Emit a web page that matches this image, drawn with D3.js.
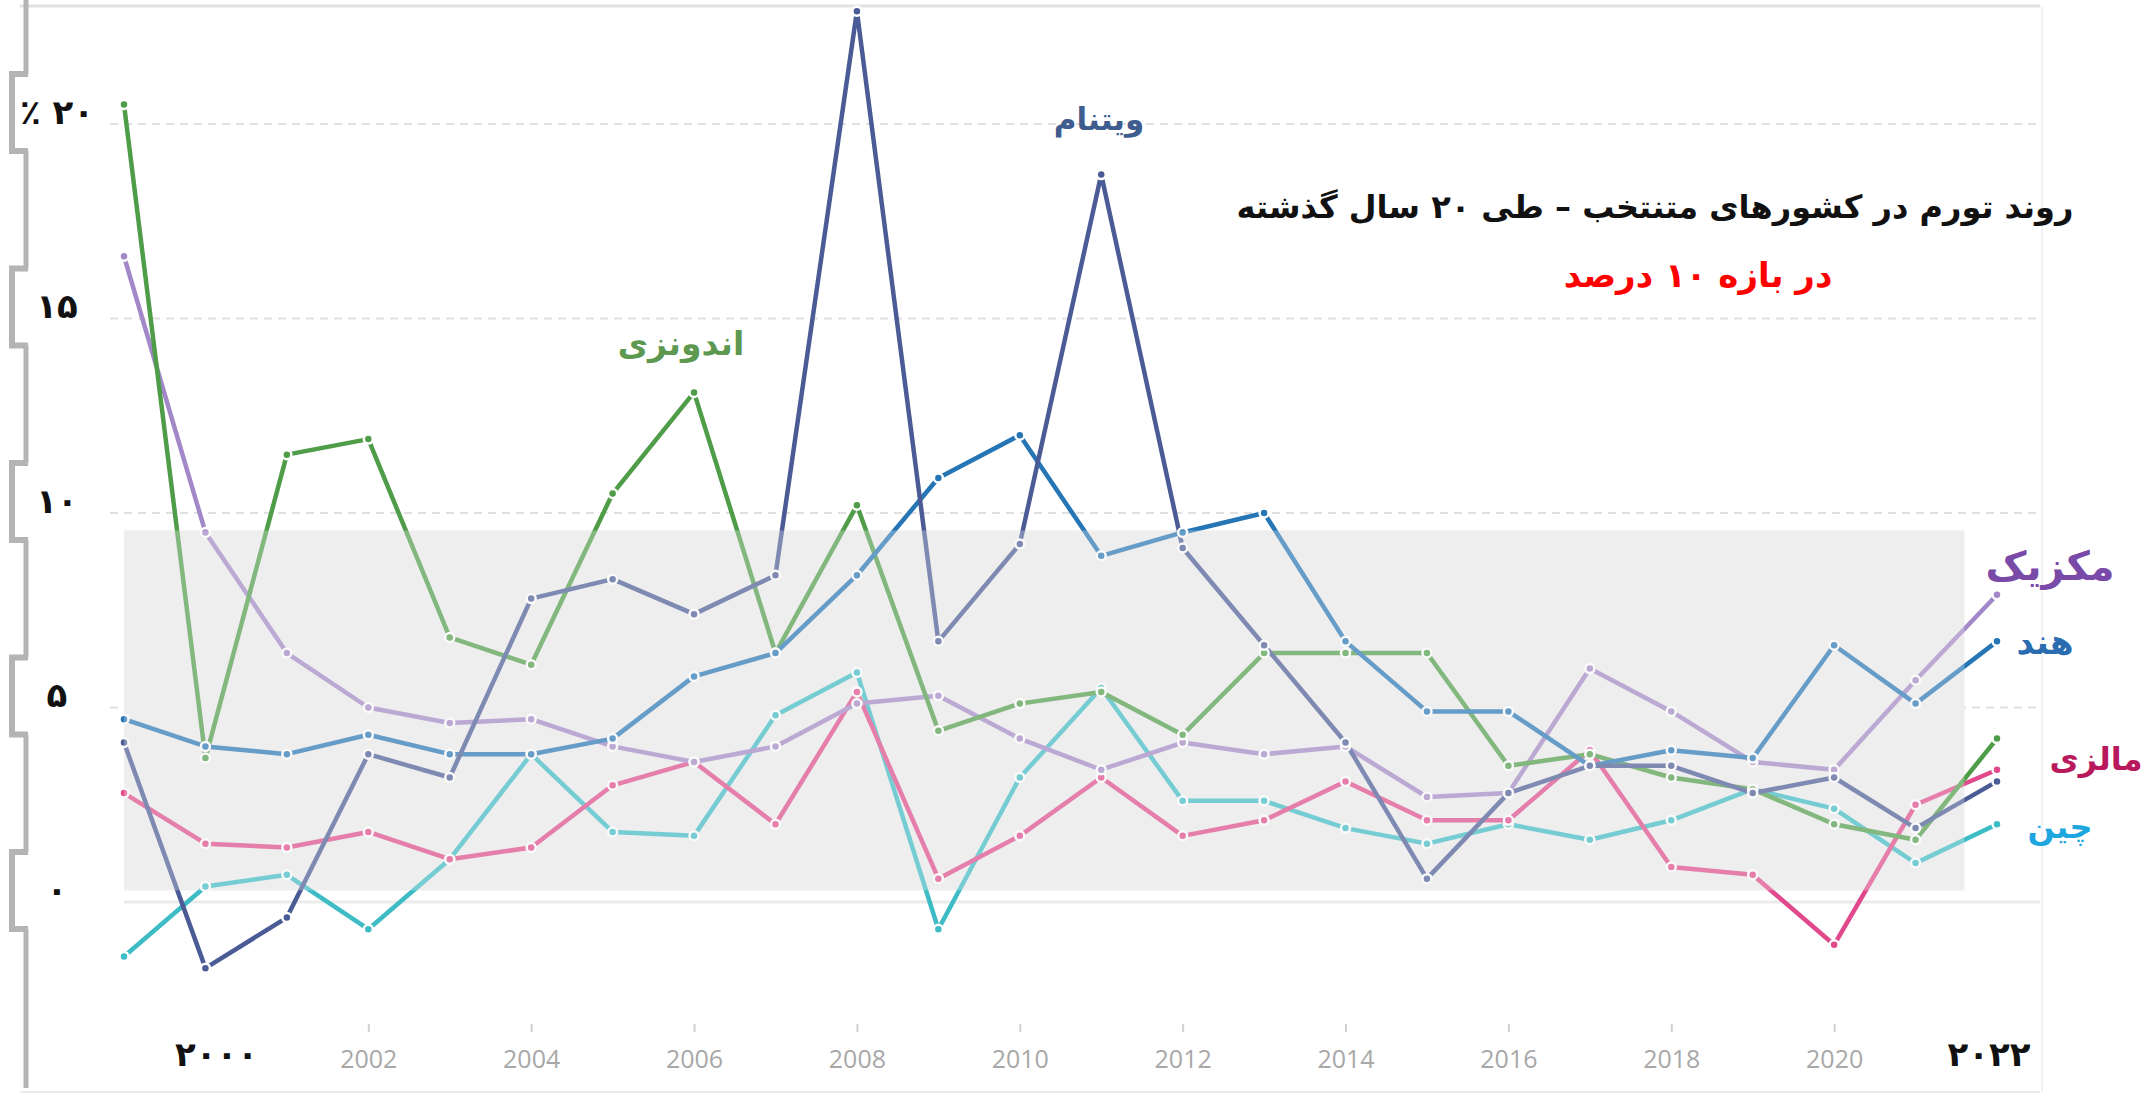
<!DOCTYPE html>
<html>
<head>
<meta charset="utf-8">
<script src="https://cdn.jsdelivr.net/npm/d3@7/dist/d3.min.js"></script>
<style>
    body { margin: 0; background: #fff; }
    svg { display: block; }
</style>
</head>
<body>
<div id="chart"></div>
<script>
// inflation, % per year
const years = [1999, 2000, 2001, 2002, 2003, 2004, 2005, 2006, 2007, 2008, 2009, 2010,
    2011, 2012, 2013, 2014, 2015, 2016, 2017, 2018, 2019, 2020, 2021, 2022];

const indonesia = [20.5, 3.7, 11.5, 11.9, 6.8, 6.1, 10.5, 13.1, 6.4, 10.2, 4.4, 5.1,
    5.4, 4.3, 6.4, 6.4, 6.4, 3.5, 3.8, 3.2, 2.9, 2.0, 1.6, 4.2];
const vietnam = [4.1, -1.7, -0.4, 3.8, 3.2, 7.8, 8.3, 7.4, 8.4, 22.9, 6.7, 9.2,
    18.7, 9.1, 6.6, 4.1, 0.6, 2.8, 3.5, 3.5, 2.8, 3.2, 1.9, 3.1];
const india = [4.7, 4.0, 3.8, 4.3, 3.8, 3.8, 4.2, 5.8, 6.4, 8.4, 10.9, 12.0,
    8.9, 9.5, 10.0, 6.7, 4.9, 4.9, 3.5, 3.9, 3.7, 6.6, 5.1, 6.7];
const mexico = [16.6, 9.5, 6.4, 5.0, 4.6, 4.7, 4.0, 3.6, 4.0, 5.1, 5.3, 4.2,
    3.4, 4.1, 3.8, 4.0, 2.7, 2.8, 6.0, 4.9, 3.6, 3.4, 5.7, 7.9];
const malaysia = [2.8, 1.5, 1.4, 1.8, 1.1, 1.4, 3.0, 3.6, 2.0, 5.4, 0.6, 1.7,
    3.2, 1.7, 2.1, 3.1, 2.1, 2.1, 3.9, 0.9, 0.7, -1.1, 2.5, 3.4];
const china = [-1.4, 0.4, 0.7, -0.7, 1.1, 3.8, 1.8, 1.7, 4.8, 5.9, -0.7, 3.2,
    5.5, 2.6, 2.6, 1.9, 1.5, 2.0, 1.6, 2.1, 2.9, 2.4, 1.0, 2.0];

const seriesNames = ["چین", "مالزی", "مکزیک", "اندونزی", "هند", "ویتنام"];
const seriesValues = [china, malaysia, mexico, indonesia, india, vietnam];

const yTickValues = [0, 5, 10, 15, 20];
const yTickLabels = ["۰", "۵", "۱۰", "۱۵", "٪ ۲۰"];
const xTickValues = [2002, 2004, 2006, 2008, 2010, 2012, 2014, 2016, 2018, 2020];
const xEndTicks = [2000, 2022];
const xEndLabels = ["۲۰۰۰", "۲۰۲۲"];

// the shaded "10 percent" zone
const bandValues = [0.3, 9.55];
const bandYears = [1999, 2021.6];

const titleText = "روند تورم در کشورهای متنتخب – طی ۲۰ سال گذشته";
const subtitleText = "در بازه ۱۰ درصد";

// styling per series (same order as seriesNames)
const lineColors = ["#3dbcc6", "#e0498b", "#a288c8", "#4f9c49", "#2676b6", "#4b5b96"];
const labelColors = ["#1ea7df", "#b8195c", "#7a4aa8", "#5c9850", "#2a6cb0", "#3e5d8e"];
const labelPos = [
    {x: 2060, y: 838}, {x: 2096, y: 770}, {x: 2050, y: 580},
    {x: 681, y: 355}, {x: 2045, y: 654}, {x: 1099, y: 130}
];
const labelSize = [32, 32, 40, 33, 34, 31];
const endLabelShift = [11, -8];

const W = 2156, H = 1094;
const persianFont = "'DejaVu Sans', sans-serif";

const svg = d3.select("#chart").append("svg")
    .attr("width", W)
    .attr("height", H);

const x = d3.scaleLinear().domain([1999, 2022]).range([124, 1997]);
const y = d3.scaleLinear().domain([0, 20]).range([902, 124]);

// frame of the pasted picture
svg.append("line")
    .attr("x1", 20).attr("x2", 2040).attr("y1", 6).attr("y2", 6)
    .attr("stroke", "#e2e2e2").attr("stroke-width", 3);
svg.append("line")
    .attr("x1", 20).attr("x2", 2040).attr("y1", 1092).attr("y2", 1092)
    .attr("stroke", "#ececec").attr("stroke-width", 2);
svg.append("line")
    .attr("x1", 2042).attr("x2", 2042).attr("y1", 6).attr("y2", 1092)
    .attr("stroke", "#f3f3f3").attr("stroke-width", 2);

// left bar with label tabs
svg.append("line")
    .attr("x1", 26).attr("x2", 26).attr("y1", 0).attr("y2", 1088)
    .attr("stroke", "#b4b4b4").attr("stroke-width", 5);

const tabs = svg.append("g");
yTickValues.forEach(function (v, i) {
    let cy = y(v) - 12;
    tabs.append("rect")
        .attr("x", 15).attr("y", cy - 38)
        .attr("width", 85).attr("height", 77)
        .attr("fill", "#fff");
    tabs.append("path")
        .attr("d", "M28," + (cy - 38) + "H12V" + (cy + 39) + "H28")
        .attr("fill", "none")
        .attr("stroke", "#b4b4b4")
        .attr("stroke-width", 6);
    tabs.append("text")
        .attr("x", 57).attr("y", cy)
        .attr("dy", "0.35em")
        .attr("text-anchor", "middle")
        .style("font-family", persianFont)
        .style("font-size", "34px")
        .style("font-weight", "bold")
        .attr("fill", "#111")
        .text(yTickLabels[i]);
});

// grid
svg.append("g").selectAll("line")
    .data(yTickValues)
    .enter().append("line")
    .attr("x1", d => d === 0 ? 124 : 110)
    .attr("x2", 2040)
    .attr("y1", d => y(d)).attr("y2", d => y(d))
    .attr("stroke", d => d === 0 ? "#ebebeb" : "#e0e0e0")
    .attr("stroke-width", d => d === 0 ? 3 : 2)
    .attr("stroke-dasharray", d => d === 0 ? null : "8,6");

// band under the lines
svg.append("rect")
    .attr("x", x(bandYears[0])).attr("y", y(bandValues[1]))
    .attr("width", x(bandYears[1]) - x(bandYears[0]))
    .attr("height", y(bandValues[0]) - y(bandValues[1]))
    .attr("fill", "#ededed");

const line = d3.line()
    .x((d, i) => x(years[i]))
    .y(d => y(d));

const lines = svg.append("g");
seriesValues.forEach(function (vals, k) {
    lines.append("path")
        .datum(vals)
        .attr("fill", "none")
        .attr("stroke", lineColors[k])
        .attr("stroke-width", 4.5)
        .attr("stroke-linejoin", "round")
        .attr("d", line);
});
seriesValues.forEach(function (vals, k) {
    lines.append("g").selectAll("circle")
        .data(vals)
        .enter().append("circle")
        .attr("cx", (d, i) => x(years[i]))
        .attr("cy", d => y(d))
        .attr("r", 4.5)
        .attr("fill", lineColors[k])
        .attr("stroke", "#fff")
        .attr("stroke-width", 2.5);
});

// band wash over the lines
svg.append("rect")
    .attr("x", x(bandYears[0])).attr("y", y(bandValues[1]))
    .attr("width", x(bandYears[1]) - x(bandYears[0]))
    .attr("height", y(bandValues[0]) - y(bandValues[1]))
    .attr("fill", "#f0f0f0")
    .attr("opacity", 0.32);

// x axis
const xAxis = d3.axisBottom(x)
    .tickValues(xTickValues)
    .tickSize(8)
    .tickPadding(18)
    .tickFormat(d3.format("d"));

const gx = svg.append("g")
    .attr("transform", "translate(0,1024)")
    .call(xAxis);
gx.select(".domain").remove();
gx.selectAll(".tick line").attr("stroke", "#d0d0d0").attr("stroke-width", 2);
gx.selectAll(".tick text")
    .attr("fill", "#a8a8a8")
    .style("font-family", "'Open Sans', sans-serif")
    .style("font-size", "25px");

svg.append("g").selectAll("text")
    .data(xEndTicks)
    .enter().append("text")
    .attr("x", (d, i) => x(d) + endLabelShift[i])
    .attr("y", 1066)
    .attr("text-anchor", "middle")
    .style("font-family", persianFont)
    .style("font-size", "34px")
    .style("font-weight", "bold")
    .attr("fill", "#111")
    .text((d, i) => xEndLabels[i]);

// series names
svg.append("g").selectAll("text")
    .data(seriesNames)
    .enter().append("text")
    .attr("x", (d, i) => labelPos[i].x)
    .attr("y", (d, i) => labelPos[i].y)
    .attr("text-anchor", "middle")
    .attr("direction", "rtl")
    .style("font-family", persianFont)
    .style("font-size", (d, i) => labelSize[i] + "px")
    .style("font-weight", "bold")
    .attr("fill", (d, i) => labelColors[i])
    .text(d => d);

// titles
svg.append("text")
    .attr("x", 1655).attr("y", 218)
    .attr("text-anchor", "middle")
    .attr("direction", "rtl")
    .style("font-family", persianFont)
    .style("font-size", "32px")
    .style("font-weight", "bold")
    .attr("fill", "#111")
    .text(titleText);

svg.append("text")
    .attr("x", 1698).attr("y", 287)
    .attr("text-anchor", "middle")
    .attr("direction", "rtl")
    .style("font-family", persianFont)
    .style("font-size", "34px")
    .style("font-weight", "bold")
    .attr("fill", "#ff0000")
    .text(subtitleText);
</script>
</body>
</html>
